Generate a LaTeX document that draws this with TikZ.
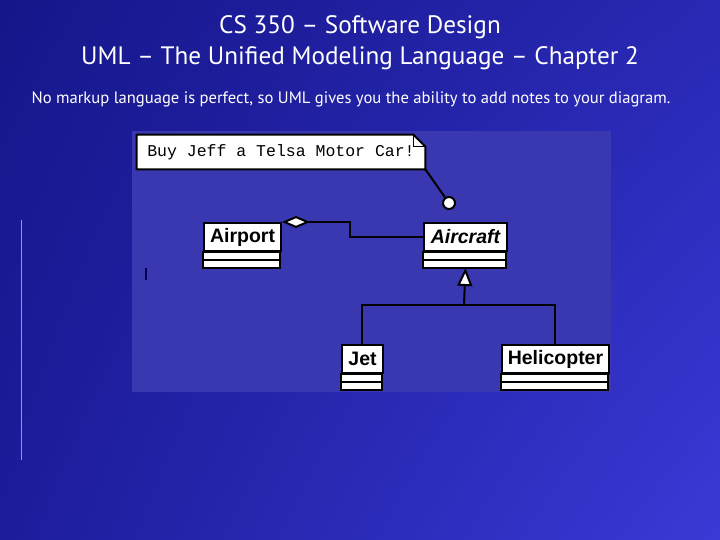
\documentclass[tikz,border=0pt]{standalone}
\usepackage{fontspec}
\setmainfont{Liberation Sans}
\newfontfamily\slidefont{PT Sans}
\newfontfamily\notefont{Liberation Mono}
\usetikzlibrary{arrows.meta,shadings}
\definecolor{panelblue}{HTML}{3A38B0}
\definecolor{edgeline}{HTML}{8F9BD0}
\definecolor{slideul}{RGB}{22,22,138}
\definecolor{slideur}{RGB}{40,40,180}
\definecolor{slidell}{RGB}{28,28,155}
\definecolor{slidelr}{RGB}{58,58,215}
\begin{document}
\begin{tikzpicture}[x=0.5pt,y=-0.5pt,
  classname/.style={draw,line width=1pt,fill=white,inner sep=0pt,anchor=north west,
    minimum height=14pt,font=\bfseries\fontsize{9.75}{10}\selectfont},
  wire/.style={line width=1pt},
  slidetext/.style={text=white,anchor=base,inner sep=0pt}]
  \useasboundingbox (0,0) rectangle (720,540);
  \shade[upper left=slideul,upper right=slideur,lower left=slidell,lower right=slidelr]
    (0,0) rectangle (720,540);
  \draw[edgeline,line width=0.5pt] (22,220) -- (22,460);
  % title
  \node[slidetext,font=\slidefont\fontsize{12.6}{15}\selectfont] (head) at (360,34) {CS 350 – Software Design};
  \node[slidetext,font=\slidefont\fontsize{12.6}{15}\selectfont] (subhead) at (360,65) {UML – The Unified Modeling Language – Chapter 2};
  \node[slidetext,font=\slidefont\fontsize{8.3}{9}\selectfont] (intro) at (351,104) {No markup language is perfect, so UML gives you the ability to add notes to your diagram.};
  % diagram panel
  \fill[panelblue] (132,131) rectangle (611,392);
  \draw[black!70!blue,line width=0.6pt] (146,268) -- (146,280);
  % note
  \node[fill=white,minimum width=144pt,minimum height=17pt,inner sep=0pt,
    font=\notefont\fontsize{8.25}{9}\selectfont] (memo) at (281,152) {Buy Jeff a Telsa Motor Car!};
  \fill[panelblue] ([xshift=-6pt]memo.north east) -- (memo.north east) -- ([yshift=-6pt]memo.north east) -- cycle;
  \draw[wire] (memo.south west) -- (memo.north west) -- ([xshift=-6pt]memo.north east)
    -- ([yshift=-6pt]memo.north east) -- (memo.south east) -- cycle;
  \draw[line width=0.6pt] ([xshift=-6pt]memo.north east) |- ([yshift=-6pt]memo.north east);
  \node[circle,draw,fill=white,line width=1pt,minimum size=6pt,inner sep=0pt] (iface) at (449,203) {};
  \draw[wire] (memo.south east) -- (iface);
  % classes
  \node[classname,minimum width=38.5pt] (airport) at (203,222) {Airport};
  \node[classname,minimum width=41.5pt,font=\bfseries\itshape\fontsize{9.75}{10}\selectfont] (aircraft) at (423,222) {Aircraft};
  \node[classname,minimum width=20.5pt] (jet) at (341,344) {Jet};
  \node[classname,minimum width=53.5pt] (heli) at (501,344) {Helicopter};
  \foreach \c/\w in {airport/77,aircraft/83,jet/41,heli/107} {
    \draw[wire,fill=white] (\c.south west) rectangle ++(\w,16);
    \draw[wire] ([yshift=-4pt]\c.south west) -- ++(\w,0);
  }
  % relations
  \draw[wire,{Diamond[length=14pt,width=6pt,fill=white]}-] (airport.north east) -- (350,222) |- (aircraft.west);
  \coordinate (hub) at (464,305);
  \draw[wire] (jet.north) |- (hub) -| (heli.north);
  \draw[wire,-{Triangle[length=9pt,width=7.5pt,fill=white]}] (hub) -- ([yshift=-8pt]aircraft.south);
\end{tikzpicture}
\end{document}
